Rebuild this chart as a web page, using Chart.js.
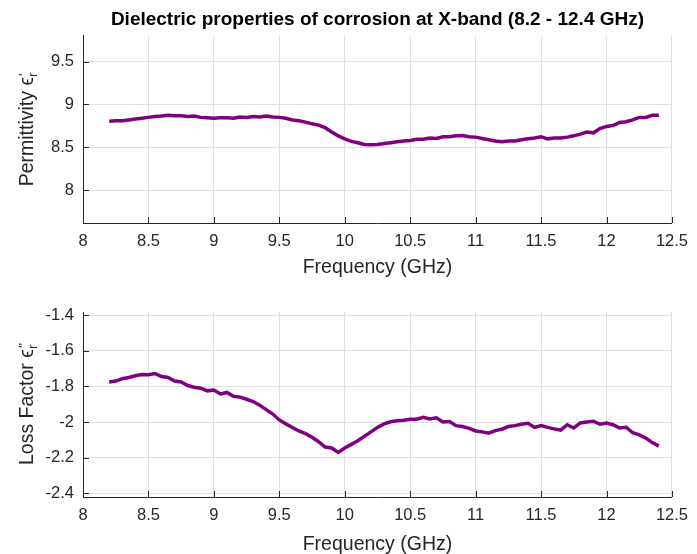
<!DOCTYPE html>
<html lang="en">
<head>
<meta charset="UTF-8">
<title>Dielectric properties of corrosion</title>
<script src="https://cdn.jsdelivr.net/npm/chart.js"></script>
<style>
  body { margin: 0; background: #fff; }
  .panel { position: absolute; left: 0; width: 697px; height: 277px; }
</style>
</head>
<body>
<div class="panel" style="top:0"><canvas id="permChart" width="697" height="277"></canvas></div>
<div class="panel" style="top:277px"><canvas id="lossChart" width="697" height="277"></canvas></div>
<script>
// frequency points (GHz)
const freq = [8.20, 8.25, 8.30, 8.35, 8.40, 8.45, 8.50, 8.55, 8.60, 8.65, 8.70, 8.75, 8.80, 8.85, 8.90, 8.95,
  9.00, 9.05, 9.10, 9.15, 9.20, 9.25, 9.30, 9.35, 9.40, 9.45, 9.50, 9.55, 9.60, 9.65, 9.70, 9.75, 9.80, 9.85, 9.90, 9.95,
  10.00, 10.05, 10.10, 10.15, 10.20, 10.25, 10.30, 10.35, 10.40, 10.45, 10.50, 10.55, 10.60, 10.65, 10.70, 10.75, 10.80, 10.85, 10.90, 10.95,
  11.00, 11.05, 11.10, 11.15, 11.20, 11.25, 11.30, 11.35, 11.40, 11.45, 11.50, 11.55, 11.60, 11.65, 11.70, 11.75, 11.80, 11.85, 11.90, 11.95,
  12.00, 12.05, 12.10, 12.15, 12.20, 12.25, 12.30, 12.35, 12.40];

// real part (permittivity)
const permittivity = [8.805, 8.81, 8.81, 8.82, 8.83, 8.84, 8.85, 8.86, 8.865, 8.875, 8.87, 8.87, 8.86, 8.865, 8.85, 8.845,
  8.84, 8.845, 8.845, 8.84, 8.855, 8.85, 8.86, 8.855, 8.865, 8.855, 8.85, 8.84, 8.82, 8.81, 8.795, 8.775, 8.76, 8.73, 8.68, 8.635,
  8.60, 8.57, 8.555, 8.535, 8.53, 8.535, 8.545, 8.555, 8.565, 8.575, 8.58, 8.595, 8.595, 8.61, 8.605, 8.625, 8.625, 8.635, 8.64, 8.625,
  8.62, 8.605, 8.59, 8.575, 8.565, 8.575, 8.575, 8.59, 8.60, 8.61, 8.625, 8.60, 8.61, 8.61, 8.62, 8.635, 8.655, 8.68, 8.67, 8.72,
  8.745, 8.755, 8.79, 8.80, 8.82, 8.85, 8.85, 8.875, 8.875];

// imaginary part (loss factor)
const lossFactor = [-1.775, -1.77, -1.757, -1.75, -1.74, -1.733, -1.735, -1.728, -1.745, -1.75, -1.77, -1.775, -1.795, -1.805, -1.81, -1.825,
  -1.82, -1.842, -1.834, -1.855, -1.86, -1.872, -1.885, -1.905, -1.93, -1.955, -1.988, -2.01, -2.03, -2.05, -2.065, -2.085, -2.11, -2.14, -2.145, -2.17,
  -2.145, -2.125, -2.105, -2.08, -2.055, -2.03, -2.01, -1.998, -1.993, -1.99, -1.984, -1.984, -1.973, -1.982, -1.976, -2.0, -1.997, -2.02, -2.025, -2.035,
  -2.05, -2.055, -2.062, -2.048, -2.04, -2.025, -2.02, -2.012, -2.007, -2.03, -2.02, -2.03, -2.038, -2.045, -2.015, -2.033, -2.005, -2.0, -1.995, -2.012,
  -2.005, -2.015, -2.033, -2.029, -2.06, -2.072, -2.09, -2.115, -2.135];

const xTicks = [8, 8.5, 9, 9.5, 10, 10.5, 11, 11.5, 12, 12.5];
const permTicks = [8, 8.5, 9, 9.5];
const lossTicks = [-2.4, -2.2, -2, -1.8, -1.6, -1.4];

const TEXT = '#262626';
const FONT = '"Liberation Sans", Arial, Helvetica, sans-serif';
const LINE = '#800080';

// inward tick marks + y label with sub/superscript
const axisExtras = {
  id: 'axisExtras',
  afterDraw(chart, args, opts) {
    const ctx = chart.ctx;
    const area = chart.chartArea;
    const xs = chart.scales.x, ys = chart.scales.y;
    ctx.save();
    ctx.strokeStyle = TEXT;
    ctx.lineWidth = 1;
    ctx.beginPath();
    xs.ticks.forEach(t => {
      const px = Math.round(xs.getPixelForValue(t.value)) + 0.5;
      ctx.moveTo(px, area.bottom);
      ctx.lineTo(px, area.bottom - 6);
    });
    ys.ticks.forEach(t => {
      const py = Math.round(ys.getPixelForValue(t.value)) + 0.5;
      ctx.moveTo(area.left, py);
      ctx.lineTo(area.left + 6, py);
    });
    ctx.stroke();

    const lab = opts.label;
    const big = '19.5px ' + FONT;
    const small = '13.5px ' + FONT;
    ctx.font = big;
    const wMain = ctx.measureText(lab.main).width;
    ctx.font = small;
    const wSub = ctx.measureText(lab.sub).width;
    const wSup = ctx.measureText(lab.sup).width;
    const total = wMain + Math.max(wSub, wSup);
    ctx.translate(opts.x, (area.top + area.bottom) / 2);
    ctx.rotate(-Math.PI / 2);
    ctx.fillStyle = TEXT;
    ctx.textAlign = 'left';
    ctx.textBaseline = 'alphabetic';
    const x0 = -total / 2;
    ctx.font = big;
    ctx.fillText(lab.main, x0, 7);
    ctx.font = small;
    ctx.fillText(lab.sub, x0 + wMain, 11);
    ctx.fillText(lab.sup, x0 + wMain + 1, 2);
    ctx.restore();
  }
};

function makeChart(id, values, yMin, yMax, yTicks, opt) {
  const ctx = document.getElementById(id).getContext('2d');
  return new Chart(ctx, {
    type: 'line',
    data: {
      datasets: [{
        data: freq.map((f, i) => ({ x: f, y: values[i] })),
        borderColor: LINE,
        borderWidth: 3.5,
        pointRadius: 0,
        tension: 0,
        fill: false
      }]
    },
    options: {
      responsive: false,
      animation: false,
      devicePixelRatio: 1,
      layout: { padding: { top: opt.padTop, right: 19, left: 0, bottom: 0 } },
      plugins: {
        legend: { display: false },
        tooltip: { enabled: false },
        title: {
          display: !!opt.title,
          text: opt.title || '',
          fullSize: false,
          color: '#000',
          font: { family: FONT, size: 19, weight: 'bold', lineHeight: 1.2 },
          padding: { top: 8, bottom: 5 }
        },
        axisExtras: { label: opt.yLabel, x: 26 }
      },
      scales: {
        x: {
          type: 'linear',
          min: 8,
          max: 12.5,
          afterBuildTicks: s => { s.ticks = xTicks.map(v => ({ value: v })); },
          afterFit: s => { s.height = opt.xHeight; },
          ticks: {
            color: TEXT,
            padding: 9,
            maxRotation: 0,
            font: { family: FONT, size: 16.5 },
            callback: v => String(v)
          },
          grid: { color: '#e0e0e0', drawTicks: false },
          border: { display: true, color: TEXT, width: 1 },
          title: {
            display: true,
            text: 'Frequency (GHz)',
            color: TEXT,
            font: { family: FONT, size: 19.5, lineHeight: 1 },
            padding: { top: 0, bottom: 0 }
          }
        },
        y: {
          min: yMin,
          max: yMax,
          afterBuildTicks: s => { s.ticks = yTicks.map(v => ({ value: v })); },
          afterFit: s => { s.width = 83; },
          ticks: {
            color: TEXT,
            padding: 9,
            font: { family: FONT, size: 16.5 },
            callback: v => String(v)
          },
          grid: { color: '#e0e0e0', drawTicks: false },
          border: { display: true, color: TEXT, width: 1 }
        }
      }
    },
    plugins: [axisExtras]
  });
}

makeChart('permChart', permittivity, 7.62, 9.8, permTicks, {
  title: 'Dielectric properties of corrosion at X-band (8.2 - 12.4 GHz)',
  padTop: 0,
  xHeight: 54,
  yLabel: { main: 'Permittivity \u03F5', sub: 'r', sup: "'" }
});

makeChart('lossChart', lossFactor, -2.42, -1.383, lossTicks, {
  padTop: 35,
  xHeight: 57,
  yLabel: { main: 'Loss Factor \u03F5', sub: 'r', sup: "''" }
});
</script>
</body>
</html>
